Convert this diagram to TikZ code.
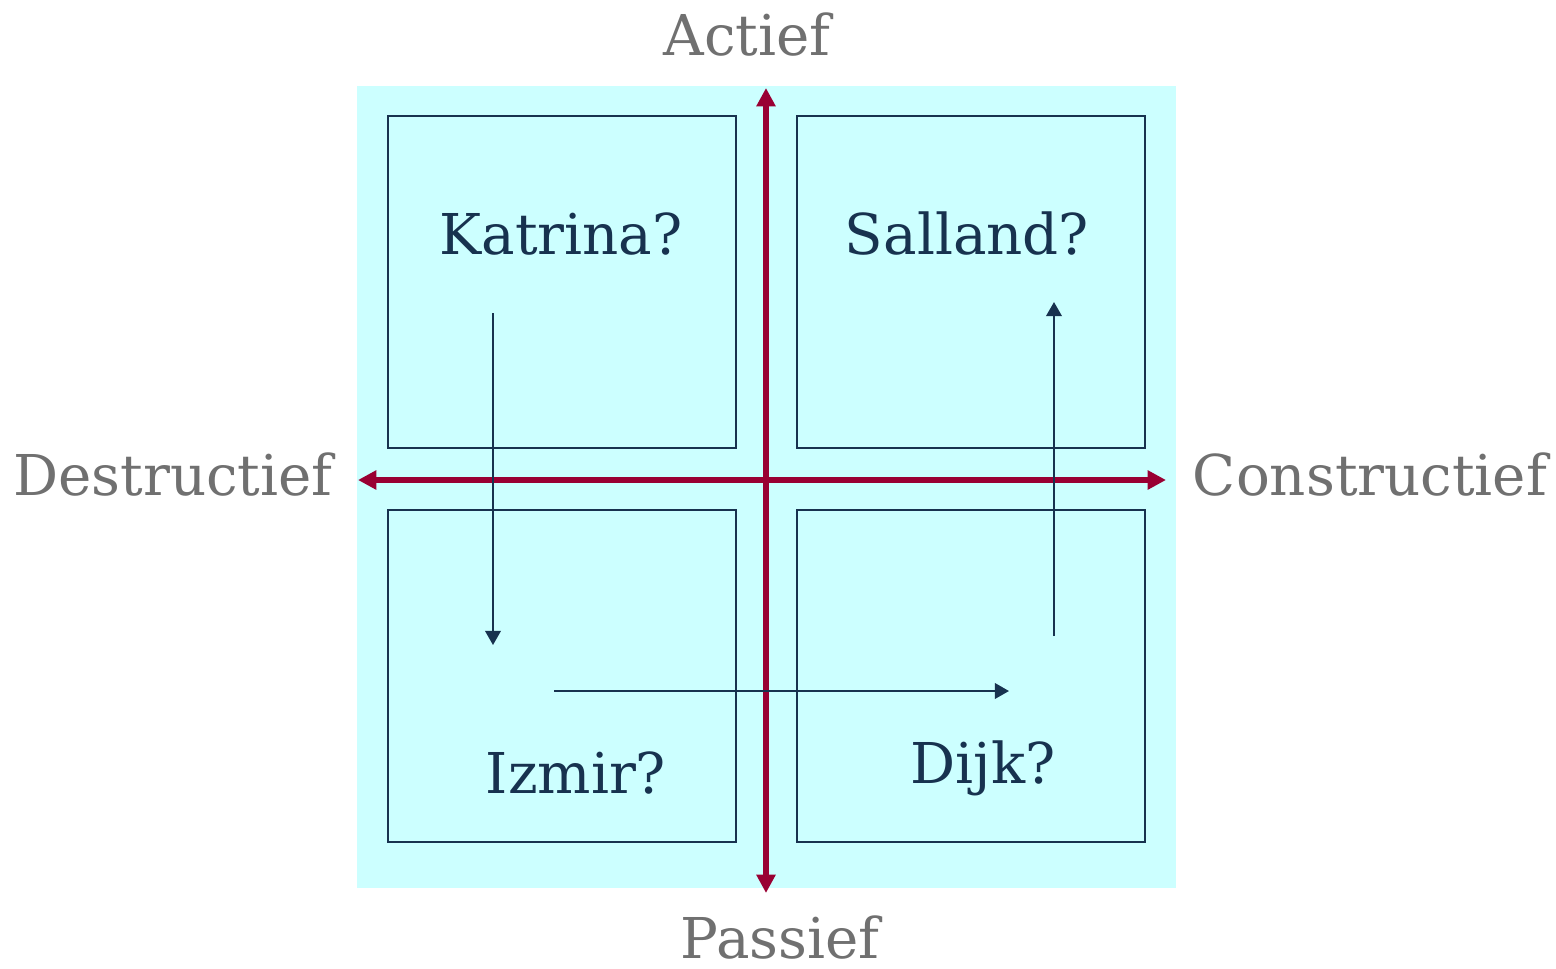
\documentclass[tikz,border=0pt]{standalone}
\usepackage{fontspec}
\setmainfont{DejaVu Serif}
\usetikzlibrary{arrows.meta}
\definecolor{cyanbg}{HTML}{CCFFFF}
\definecolor{axisred}{HTML}{990033}
\definecolor{navy}{HTML}{17324F}
\definecolor{labelgray}{HTML}{707070}
\begin{document}
\begin{tikzpicture}[x=0.01cm,y=-0.01cm,
  quad/.style={draw=navy,line width=0.6pt,minimum width=3.48cm,minimum height=3.32cm,inner sep=0pt},
  place/.style={text=navy,anchor=base,inner sep=0pt,font=\fontsize{16}{19}\selectfont},
  axislabel/.style={text=labelgray,anchor=base,inner sep=0pt,font=\fontsize{16}{19}\selectfont},
  axis/.style={axisred,line width=1.6pt,{Triangle[length=5.2pt,width=5.2pt]}-{Triangle[length=5.2pt,width=5.2pt]}},
  flow/.style={navy,line width=0.6pt,-{Triangle[length=4pt,width=4.4pt]}}]
\useasboundingbox (0,0) rectangle (1556,969);
\fill[cyanbg] (357,86) rectangle (1176,888);

\node[quad] (boxTL) at (562,282) {};
\node[quad] (boxTR) at (971,282) {};
\node[quad] (boxBL) at (562,676) {};
\node[quad] (boxBR) at (971,676) {};

\node[place] (katrina) at (561,254) {Katrina?};
\node[place] (salland) at (967,254) {Salland?};
\node[place] (izmir) at (576,793) {Izmir?};
\node[place] (dijk) at (983,783) {Dijk?};

\node[axislabel] (actief) at (747,55) {Actief};
\node[axislabel] (passief) at (780,958) {Passief};
\node[axislabel] (destructief) at (173,495) {Destructief};
\node[axislabel] (constructief) at (1370,495) {Constructief};

\coordinate (startY) at (766,893);
\coordinate (endY) at (766,88);
\coordinate (startX) at (358,480);
\coordinate (endX) at (1166,480);
\draw[axis] (startY) -- (endY);
\draw[axis] (startX) -- (endX);

\coordinate (downA) at (493,313);
\coordinate (downB) at (493,645);
\coordinate (acrossA) at (554,691);
\coordinate (acrossB) at (1009,691);
\coordinate (upA) at (1054,636);
\coordinate (upB) at (1054,302);
\draw[flow] (downA) -- (downB);
\draw[flow] (acrossA) -- (acrossB);
\draw[flow] (upA) -- (upB);
\end{tikzpicture}
\end{document}
